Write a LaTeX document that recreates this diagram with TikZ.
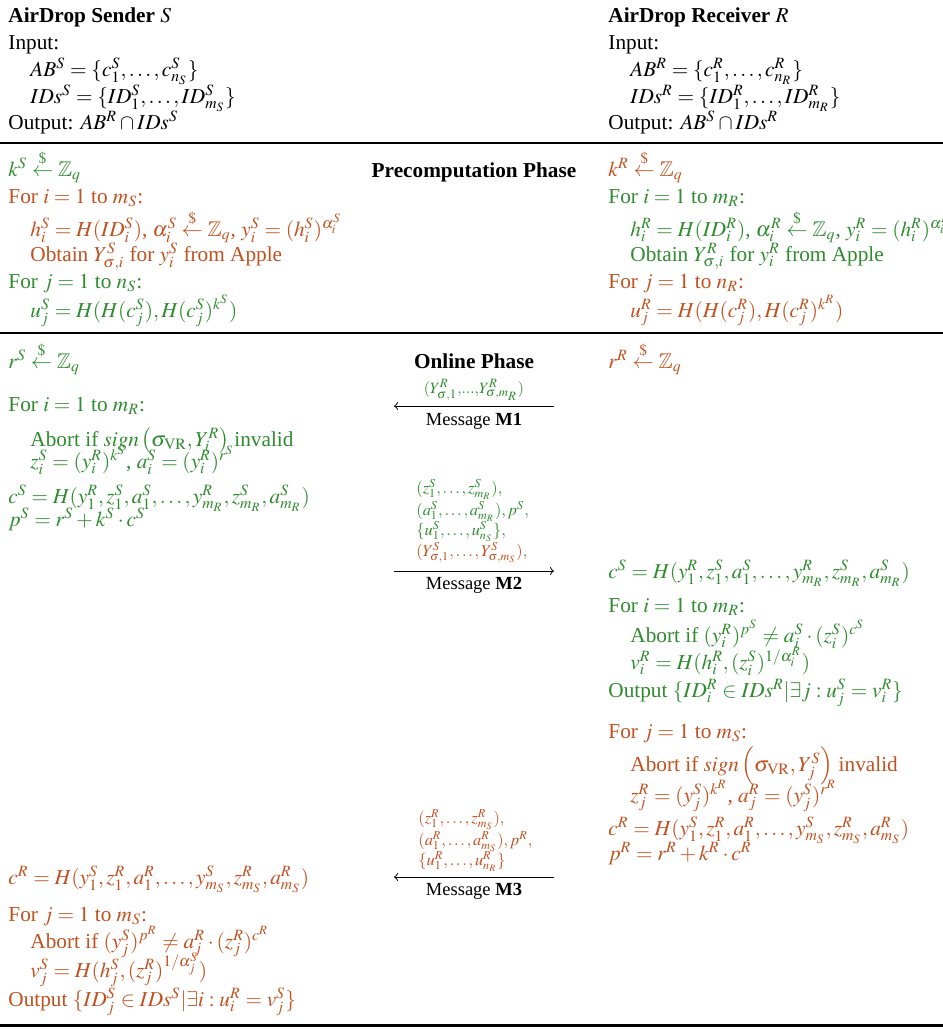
\documentclass[tikz,border=0pt]{standalone}
\usepackage{mathptmx}
\usepackage{amsmath}
\usepackage{amssymb}
\usepackage[no-math]{fontspec}
\setmainfont{Liberation Serif}
\usetikzlibrary{positioning}
\definecolor{sgreen}{HTML}{2E8B2E}
\definecolor{rorange}{HTML}{C1501E}
\newcommand{\rnd}{\stackrel{\$}{\leftarrow}}
\newcommand{\sgnVR}{\mathit{sign}}

\tikzset{
  txt/.style={anchor=base west, inner sep=0pt},
  grn/.style={txt, text=sgreen},
  org/.style={txt, text=rorange},
  msgtxt/.style={font=\fontsize{7.7}{8}\selectfont},
  phase/.style={anchor=base, inner sep=0pt, font=\bfseries},
  msglabel/.style={anchor=base, inner sep=0pt, font=\fontsize{8.7}{10}\selectfont},
  msgarrow/.style={->, line width=0.45pt},
  rulethin/.style={line width=0.7pt},
  rulethick/.style={line width=1.4pt}
}

\begin{document}
\begin{tikzpicture}[x=0.4702pt, y=-0.4702pt]
  \useasboundingbox (0,0) rectangle (943,1029);
  % Define nodes: sender header
  \node[txt] (shead) at (8,22)  {\textbf{AirDrop Sender} $S$};
  \node[txt] (sin)   at (8,49)  {Input:};
  \node[txt] (sab)   at (30,76) {$AB^S=\{c^S_1,\ldots,c^S_{n_S}\}$};
  \node[txt] (sids)  at (30,103) {$IDs^S=\{ID^S_1,\ldots,ID^S_{m_S}\}$};
  \node[txt] (sout)  at (8,129) {Output: $AB^R\cap IDs^S$};
  % receiver header
  \node[txt] (rhead) at (608,22)  {\textbf{AirDrop Receiver} $R$};
  \node[txt] (rin)   at (608,49)  {Input:};
  \node[txt] (rab)   at (630,76)  {$AB^R=\{c^R_1,\ldots,c^R_{n_R}\}$};
  \node[txt] (rids)  at (630,103) {$IDs^R=\{ID^R_1,\ldots,ID^R_{m_R}\}$};
  \node[txt] (rout)  at (608,129) {Output: $AB^S\cap IDs^R$};
  \draw[rulethin] (0,143) -- (943,143);

  % Precomputation phase
  \node[phase] (pre) at (474,177) {Precomputation Phase};
  \node[grn] (sk)    at (8,176)  {$k^S\rnd\mathbb{Z}_q$};
  \node[org] (sfori) at (8,203)  {For $i=1$ to $m_S$:};
  \node[org] (sh)    at (30,236) {$h^S_i=H(ID^S_i)$, $\alpha^S_i\rnd\mathbb{Z}_q$, $y^S_i=(h^S_i)^{\alpha^S_i}$};
  \node[org] (sobt)  at (30,261) {Obtain $Y^S_{\sigma,i}$ for $y^S_i$ from Apple};
  \node[grn] (sforj) at (8,288)  {For $j=1$ to $n_S$:};
  \node[grn] (su)    at (30,317) {$u^S_j=H(H(c^S_j),H(c^S_j)^{k^S})$};
  \node[org] (rk)    at (608,176) {$k^R\rnd\mathbb{Z}_q$};
  \node[grn] (rfori) at (608,203) {For $i=1$ to $m_R$:};
  \node[grn] (rh)    at (630,236) {$h^R_i=H(ID^R_i)$, $\alpha^R_i\rnd\mathbb{Z}_q$, $y^R_i=(h^R_i)^{\alpha^R_i}$};
  \node[grn] (robt)  at (630,261) {Obtain $Y^R_{\sigma,i}$ for $y^R_i$ from Apple};
  \node[org] (rforj) at (608,288) {For $j=1$ to $n_R$:};
  \node[org] (ru)    at (630,317) {$u^R_j=H(H(c^R_j),H(c^R_j)^{k^R})$};
  \draw[rulethin] (0,333) -- (943,333);

  % Online phase, sender side
  \node[phase] (onl) at (474,368) {Online Phase};
  \node[grn] (sr)    at (8,368)  {$r^S\rnd\mathbb{Z}_q$};
  \node[grn] (sfor2) at (8,411)  {For $i=1$ to $m_R$:};
  \node[grn] (sab2)  at (30,446) {Abort if $\sgnVR\left(\sigma_{\mathrm{VR}},Y^R_i\right)$ invalid};
  \node[grn] (sz)    at (30,468) {$z^S_i=(y^R_i)^{k^S}$, $a^S_i=(y^R_i)^{r^S}$};
  \node[grn] (sc)    at (8,503)  {$c^S=H(y^R_1,z^S_1,a^S_1,\ldots,y^R_{m_R},z^S_{m_R},a^S_{m_R})$};
  \node[grn] (sp)    at (8,526)  {$p^S=r^S+k^S\cdot c^S$};
  % receiver side
  \node[org] (rr)    at (608,368) {$r^R\rnd\mathbb{Z}_q$};
  \node[grn] (rc)    at (608,578) {$c^S=H(y^R_1,z^S_1,a^S_1,\ldots,y^R_{m_R},z^S_{m_R},a^S_{m_R})$};
  \node[grn] (rfor2) at (608,612) {For $i=1$ to $m_R$:};
  \node[grn] (rab2)  at (630,642) {Abort if $(y^R_i)^{p^S}\neq a^S_i\cdot(z^S_i)^{c^S}$};
  \node[grn] (rv)    at (630,669) {$v^R_i=H(h^R_i,(z^S_i)^{1/\alpha^R_i})$};
  \node[grn] (rout2) at (608,697) {Output $\{ID^R_i\in IDs^R|\exists j:u^S_j=v^R_i\}$};
  \node[org] (rfor3) at (608,738) {For $j=1$ to $m_S$:};
  \node[org] (rab3)  at (630,771) {Abort if $\sgnVR\left(\sigma_{\mathrm{VR}},Y^S_j\right)$ invalid};
  \node[org] (rz)    at (630,802) {$z^R_j=(y^S_j)^{k^R}$, $a^R_j=(y^S_j)^{r^R}$};
  \node[org] (rc2)   at (608,835) {$c^R=H(y^S_1,z^R_1,a^R_1,\ldots,y^S_{m_S},z^R_{m_S},a^R_{m_S})$};
  \node[org] (rp)    at (608,860) {$p^R=r^R+k^R\cdot c^R$};
  % sender side, last step
  \node[org] (sc2)   at (8,884)  {$c^R=H(y^S_1,z^R_1,a^R_1,\ldots,y^S_{m_S},z^R_{m_S},a^R_{m_S})$};
  \node[org] (sfor3) at (8,921)  {For $j=1$ to $m_S$:};
  \node[org] (sab3)  at (30,948) {Abort if $(y^S_j)^{p^R}\neq a^R_j\cdot(z^R_j)^{c^R}$};
  \node[org] (sv)    at (30,977) {$v^S_j=H(h^S_j,(z^R_j)^{1/\alpha^S_j})$};
  \node[org] (sout2) at (8,1006) {Output $\{ID^S_j\in IDs^S|\exists i:u^R_i=v^S_j\}$};
  \draw[rulethick] (0,1025) -- (943,1025);

  % Messages
  \coordinate (m1r) at (554,406);
  \coordinate (m1l) at (394,406);
  \node[anchor=base, inner sep=0pt, text=sgreen] (m1) at (474,393)
    {$\scriptstyle(Y^R_{\sigma,1},\ldots,Y^R_{\sigma,m_R})$};
  \draw[msgarrow] (m1r) -- (m1l);
  \node[msglabel] (m1lbl) at (474,425) {Message \textbf{M1}};

  \node[grn, msgtxt] (m2a) at (416,493) {$(z^S_1,\ldots,z^S_{m_R}),$};
  \node[grn, msgtxt] (m2b) at (416,515) {$(a^S_1,\ldots,a^S_{m_R}),p^S,$};
  \node[grn, msgtxt] (m2c) at (416,535) {$\{u^S_1,\ldots,u^S_{n_S}\},$};
  \node[org, msgtxt] (m2d) at (416,556) {$(Y^S_{\sigma,1},\ldots,Y^S_{\sigma,m_S}),$};
  \coordinate (m2l) at (394,571);
  \coordinate (m2r) at (554,571);
  \draw[msgarrow] (m2l) -- (m2r);
  \node[msglabel] (m2lbl) at (474,589) {Message \textbf{M2}};

  \node[org, msgtxt] (m3a) at (418,823) {$(z^R_1,\ldots,z^R_{m_S}),$};
  \node[org, msgtxt] (m3b) at (418,845) {$(a^R_1,\ldots,a^R_{m_S}),p^R,$};
  \node[org, msgtxt] (m3c) at (418,865) {$\{u^R_1,\ldots,u^R_{n_R}\}$};
  \coordinate (m3r) at (554,877);
  \coordinate (m3l) at (394,877);
  \draw[msgarrow] (m3r) -- (m3l);
  \node[msglabel] (m3lbl) at (474,895) {Message \textbf{M3}};
\end{tikzpicture}
\end{document}
